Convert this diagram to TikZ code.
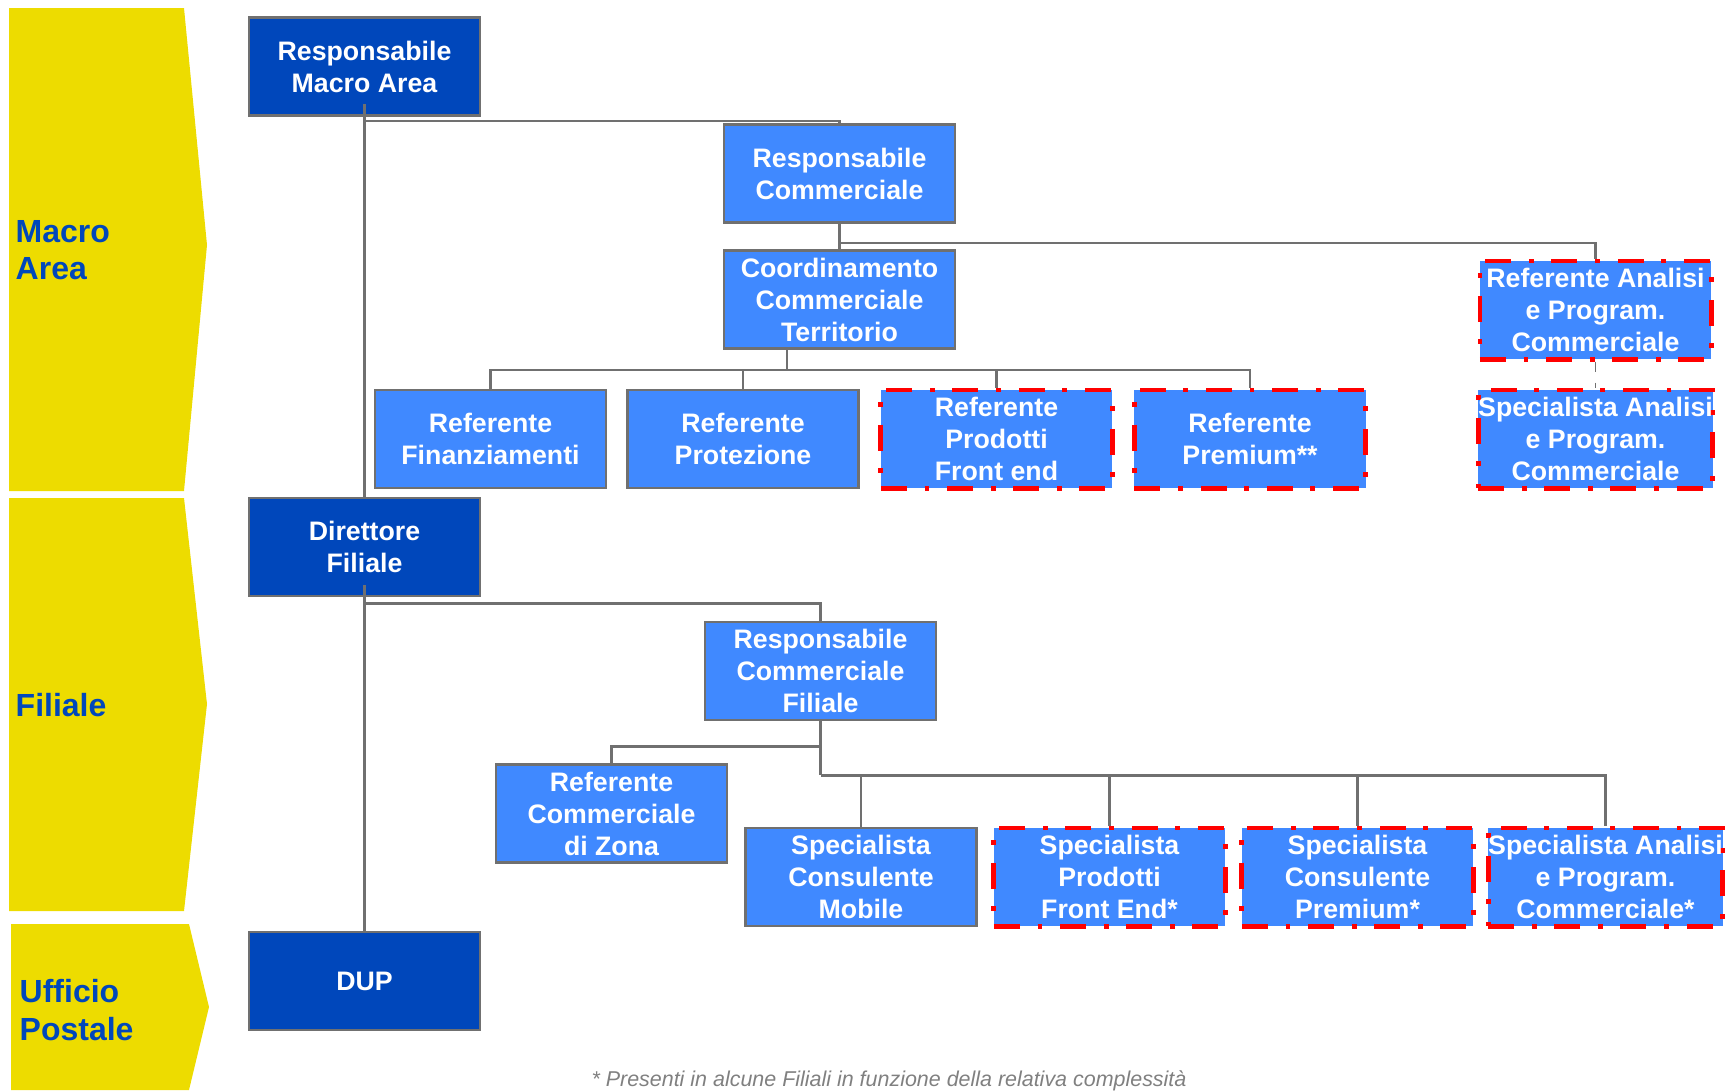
\documentclass[tikz,border=0pt]{standalone}
\usepackage{fontspec}
\setmainfont{Liberation Sans}
\usetikzlibrary{calc}
\tikzset{>=latex}
\definecolor{mablue}{RGB}{0,71,187}
\definecolor{ltblue}{RGB}{64,137,255}
\definecolor{myyellow}{RGB}{237,220,0}
\definecolor{mygray}{RGB}{112,112,112}
\definecolor{notegray}{RGB}{128,128,128}

\begin{document}
\begin{tikzpicture}[x=0.01cm, y=-0.01cm,
  box/.style={draw=mygray, line width=0.8pt, minimum width=2.31cm, minimum height=0.98cm, inner sep=0pt, align=center, text=white, font=\fontsize{7.6}{9.1}\selectfont\bfseries},
  darkbox/.style={box, fill=mablue},
  lightbox/.style={box, fill=ltblue},
  optbox/.style={box, fill=ltblue, draw=red, line width=1.4pt, dash pattern=on 7.4pt off 5pt on 1.4pt off 5pt},
  link/.style={draw=mygray, line width=0.6pt},
  level/.style={anchor=west, align=left, inner sep=0pt, text=mablue, font=\fontsize{9.1}{10.6}\selectfont\bfseries}]
\useasboundingbox (0,0) rectangle (1725,1090);
\fill[myyellow] (9,8) -- (184,8) -- (207,245) -- (184,491) -- (9,491) -- cycle;
\fill[myyellow] (9,498) -- (184,498) -- (207,704) -- (184,911) -- (9,911) -- cycle;
\fill[myyellow] (11,924) -- (189,924) -- (209,1007) -- (189,1090) -- (11,1090) -- cycle;
\node[level] (lma) at (15,250) {Macro\\Area};
\node[level] (lfil) at (15,705) {Filiale};
\node[level] (lup) at (19,1010) {Ufficio\\Postale};

\node[darkbox] (ma) at (364.5,66.5) {Responsabile\\Macro Area};
\node[lightbox] (rc) at (839.5,173.5) {Responsabile\\Commerciale};
\node[lightbox] (cct) at (839.5,299.5) {Coordinamento\\Commerciale\\Territorio};
\node[lightbox] (rfin) at (490.5,439) {Referente\\Finanziamenti};
\node[lightbox] (rprot) at (743,439) {Referente\\Protezione};
\node[optbox] (rprod) at (996.5,439) {Referente\\Prodotti\\Front end};
\node[optbox] (rprem) at (1250,439) {Referente\\Premium**};
\node[optbox] (ra) at (1595.5,310) {Referente Analisi\\e Program.\\Commerciale};
\node[optbox] (sa) at (1595.5,439) {Specialista Analisi\\e Program.\\Commerciale};

\node[darkbox] (df) at (364.5,547) {Direttore\\Filiale};
\node[lightbox] (rcf) at (820.5,671) {Responsabile\\Commerciale\\Filiale};
\node[lightbox] (rcz) at (611.5,813.5) {Referente\\Commerciale\\di Zona};
\node[lightbox] (scm) at (861,877) {Specialista\\Consulente\\Mobile};
\node[optbox] (spf) at (1109.5,877) {Specialista\\Prodotti\\Front End*};
\node[optbox] (scp) at (1357.5,877) {Specialista\\Consulente\\Premium*};
\node[optbox] (sap) at (1605.5,877) {Specialista Analisi\\e Program.\\Commerciale*};

\node[darkbox] (dup) at (364.5,981) {DUP};

\draw[link] ([yshift=0.13cm]ma.south) -- (df.north);
\draw[link] ([yshift=0.12cm]df.south) -- (dup.north);
\coordinate (j1) at ($(ma.south)+(0,4)$);
\draw[link] (j1) -| (rc.north);
\draw[link] (rc.south) -- (cct.north);
\coordinate (j2) at ($(rc.south)+(0,19)$);
\draw[link] (j2) -| (ra.north);
\draw[link, dashed, line width=0.4pt] (ra.south) -- (sa.north);
\coordinate (bus1) at (787,370);
\draw[link] (cct.south -| bus1) -- (bus1);
\foreach \n in {rfin,rprot,rprod,rprem}{
\draw[link] (bus1) -| (\n.north);
}

\coordinate (j3) at ($(df.south)+(0,6)$);
\draw[link] (j3) -| (rcf.north);
\coordinate (j4) at ($(rcf.south)+(0,25)$);
\coordinate (bus2) at ($(rcf.south)+(0,54)$);
\draw[link] (rcf.south) -- (bus2);
\draw[link] (j4) -| (rcz.north);
\foreach \n in {scm,spf,scp,sap}{
\draw[link] (bus2) -| (\n.north);
}

\node[text=notegray, font=\fontsize{6.1}{7}\selectfont\itshape] (note) at (889,1081) {* Presenti in alcune Filiali in funzione della relativa complessità};
\end{tikzpicture}
\end{document}
